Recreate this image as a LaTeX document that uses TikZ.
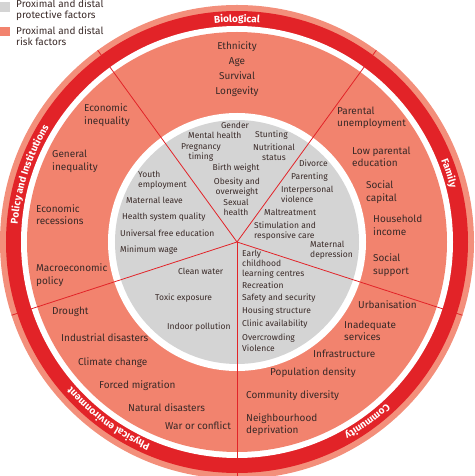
\documentclass[tikz,border=0pt]{standalone}
\usepackage{fontspec}
\setmainfont{Fira Sans}
\usetikzlibrary{decorations.text}

\definecolor{bandred}{RGB}{226,35,40}
\definecolor{salmon}{RGB}{242,131,110}
\definecolor{paleband}{RGB}{243,143,123}
\definecolor{greyzone}{RGB}{212,212,212}
\definecolor{inktext}{RGB}{58,42,40}

\tikzset{
  risk/.style={inner sep=0pt, font=\fontsize{10}{12.5}\selectfont, text=inktext, align=left, anchor=west},
  riskc/.style={risk, anchor=center, align=center},
  shield/.style={inner sep=0pt, font=\fontsize{8.5}{10}\selectfont, text=inktext, align=left, anchor=west},
  shieldc/.style={shield, anchor=center, align=center},
  keytext/.style={inner sep=0pt, font=\fontsize{10}{11}\selectfont, text=inktext, align=left, anchor=west},
  ringlabel/.style={decorate, decoration={text along path, text align=center, text color=white,
    text={|\bfseries\fontsize{10}{12}\selectfont|#1}}},
}

\begin{document}
\begin{tikzpicture}[x=1pt,y=1pt]
\useasboundingbox (-237,-234) rectangle (237,242);

% rings, from the outside in
\fill[paleband] (0,0) circle (237);
\fill[bandred] (0,0) circle (231);
\fill[white] (0,0) circle (216);
\fill[salmon] (0,0) circle (210);
\fill[white] (0,0) circle (129);
\fill[greyzone] (0,0) circle (122);

% spokes between the five domains
\coordinate (hub) at (0,0);
\foreach \a in {54,126,198,270,342} {
  \coordinate (rim\a) at (\a:237);
  \draw[bandred, line width=0.8pt] (hub) -- (rim\a);
}

% domain names in the red band
\path[ringlabel=Biological] (126:220) arc[start angle=126, end angle=54, radius=220];
\path[ringlabel=Family] (54:220) arc[start angle=54, end angle=-18, radius=220];
\path[ringlabel=Community] (-18:220) arc[start angle=-18, end angle=-90, radius=220];
\path[ringlabel=Physical environment] (-90:220) arc[start angle=-90, end angle=-162, radius=220];
\path[ringlabel=Policy and Institutions] (198:220) arc[start angle=198, end angle=126, radius=220];

% legend
\fill[greyzone] (-237,240) rectangle (-227,230);
\node[keytext] (keyprot) at (-221,231.5) {Proximal and distal\\protective factors};
\fill[salmon] (-237,215) rectangle (-227,206);
\node[keytext] (keyrisk) at (-221,206) {Proximal and distal\\risk factors};

% risk factors (salmon ring)
\node[riskc, font=\fontsize{10}{15}\selectfont] (bio) at (0,172.5) {Ethnicity\\Age\\Survival\\Longevity};

\node[risk] (econineq) at (-153,127) {Economic\\inequality};
\node[risk] (genineq) at (-185,80.5) {General\\inequality};
\node[risk] (recess) at (-201,27.5) {Economic\\recessions};
\node[risk] (macro) at (-201,-33) {Macroeconomic\\policy};

\node[risk] (drought) at (-185,-70) {Drought};
\node[risk] (industrial) at (-176,-96) {Industrial disasters};
\node[risk] (climate) at (-159,-121) {Climate change};
\node[risk] (migration) at (-138,-144) {Forced migration};
\node[risk] (natural) at (-109,-166) {Natural disasters};
\node[risk] (war) at (-72,-184) {War or conflict};

\node[risk] (unemploy) at (100,124) {Parental\\unemployment};
\node[risk] (loweduc) at (115,85) {Low parental\\education};
\node[risk] (capital) at (129,50) {Social\\capital};
\node[risk] (income) at (136,16.5) {Household\\income};
\node[risk] (support) at (136,-23) {Social\\support};

\node[risk] (urban) at (121,-63) {Urbanisation};
\node[risk] (services) at (107,-89) {Inadequate\\services};
\node[risk] (infra) at (76,-112) {Infrastructure};
\node[risk] (density) at (33,-131) {Population density};
\node[risk] (diversity) at (9,-154) {Community diversity};
\node[risk] (depriv) at (9,-182.5) {Neighbourhood\\deprivation};

% protective factors (grey core)
\node[shieldc] (gender) at (-2,117) {Gender};
\node[shield] (mental) at (-49,107) {Mental health};
\node[shield] (stunting) at (18,107) {Stunting};
\node[shieldc] (pregnancy) at (-36,90) {Pregnancy\\timing};
\node[shieldc] (nutrition) at (37,90) {Nutritional\\status};
\node[shieldc] (birth) at (-1,74) {Birth weight};
\node[shieldc] (obesity) at (0,55) {Obesity and\\overweight};
\node[shieldc] (sexual) at (-1,35) {Sexual\\health};

\node[shield] (youth) at (-99,62) {Youth\\employment};
\node[shield] (leave) at (-111,42) {Maternal leave};
\node[shield] (health) at (-115,25) {Health system quality};
\node[shield] (school) at (-117,9) {Universal free education};
\node[shield] (wage) at (-117,-8) {Minimum wage};

\node[shield] (divorce) at (62,79) {Divorce};
\node[shield] (parenting) at (54,65) {Parenting};
\node[shield] (violence) at (44,48) {Interpersonal\\violence};
\node[shield] (maltreat) at (27,30) {Maltreatment};
\node[shield] (stimul) at (17,11) {Stimulation and\\responsive care};
\node[shield] (depress) at (73,-8.5) {Maternal\\depression};

\node[shield] (early) at (5,-22) {Early\\childhood\\learning centres};
\node[shield] (recreation) at (5,-43) {Recreation};
\node[shield] (safety) at (5,-56) {Safety and security};
\node[shield] (housing) at (5,-69) {Housing structure};
\node[shield] (clinic) at (5,-82) {Clinic availability};
\node[shield] (crowd) at (5,-96) {Overcrowding};
\node[shield] (violent) at (5,-106) {Violence};

\node[shield] (water) at (-59,-29) {Clean water};
\node[shield] (toxic) at (-82,-56) {Toxic exposure};
\node[shield] (indoor) at (-70,-85) {Indoor pollution};
\end{tikzpicture}
\end{document}
